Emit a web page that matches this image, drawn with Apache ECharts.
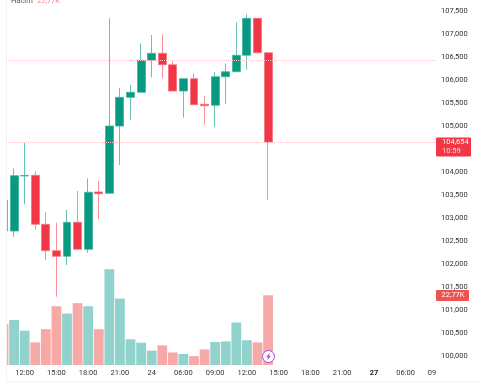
<!DOCTYPE html>
<html><head><meta charset="utf-8">
<style>html,body{margin:0;padding:0;background:#fff}#c{width:480px;height:384px;filter:blur(0.4px)}</style>
<script src="https://cdn.jsdelivr.net/npm/echarts@6/dist/echarts.min.js"></script></head>
<body><div id="c"></div>
<script>
const opens  = [103395,102721,103916,103931,102867,102294,102172,102910,102324,103569,103540,105002,105625,105734,106429,106581,106333,105762,106029,105473,105452,106073,106181,106538,107341,106594];
const closes = [102721,103923,103927,102867,102294,102172,102910,102324,103562,103532,105002,105625,105734,106429,106581,106333,105762,106029,105465,105443,106073,106181,106538,107341,106594,104654];
const lows   = [102721,102598,103301,102758,102092,101295,101983,102324,102250,102982,103540,104155,105132,105734,106060,106038,105762,105182,105452,105030,104987,105486,106181,106225,106566,103388];
const highs  = [103395,104083,104639,104018,103128,102902,103178,103590,103866,103807,107341,105827,105893,106798,106979,106994,106399,106029,106147,105660,106175,106364,107254,107428,107341,106594];
const volumes= [13.4,14.7,11.2,7.4,11.7,19.2,16.8,20.2,19.2,11.7,31.3,21.7,8.4,7.3,4.7,6.4,4.1,3.6,2.9,5.1,7.5,7.7,13.9,8.1,7.4,22.77];
const priceTicks = [100000,100500,101000,101500,102000,102500,103000,103500,104000,105000,105500,106000,106500,107000,107500];
const timeTickPos = [2,5,8,11,14,17,20,23,26,29,32,35,38,40.48];
const timeTickLabels = ['12:00','15:00','18:00','21:00','24','06:00','09:00','12:00','15:00','18:00','21:00','27','06:00','09'];
const boldTimeLabels = ['27'];
const refLevels = [106425,104654];
const lastPrice = '104,654', countdown = '10:59', lastVolume = '22,77K';

const GREEN='#089981', RED='#F23645', GREEN_V='#92D2CC', RED_V='#F7A9A7';
const FONT='Roboto, sans-serif', FS=7.5;
const idx = opens.map((_,i)=>i);
const fmtPrice = v => v.toLocaleString('en-US');
const xRange={min:0.236,max:40.77}, rect={left:6,right:45,top:0,height:365};

const chart = echarts.init(document.getElementById('c'),null,{renderer:'canvas'});
chart.setOption({
  animation:false, backgroundColor:'#fff',
  grid:[Object.assign({},rect),Object.assign({},rect)],
  xAxis:[
    Object.assign({type:'value',gridIndex:0,splitLine:{show:false},axisLine:{show:false},axisTick:{show:false},
      axisLabel:{customValues:timeTickPos,margin:4.5,color:'#333',fontFamily:FONT,fontSize:FS,
        formatter:v=>{const l=timeTickLabels[timeTickPos.indexOf(v)];return boldTimeLabels.includes(l)?'{b|'+l+'}':l;},
        rich:{b:{fontWeight:'bold',color:'#222',fontFamily:FONT,fontSize:FS}}}},xRange),
    Object.assign({type:'value',gridIndex:1,show:false},xRange)
  ],
  yAxis:[
    {type:'value',gridIndex:0,position:'right',min:99811,max:107739,splitLine:{show:false},axisLine:{show:false},axisTick:{show:false},
     axisLabel:{customValues:priceTicks,margin:6,color:'#333',fontFamily:FONT,fontSize:FS,formatter:fmtPrice}},
    {type:'value',gridIndex:1,min:0,max:119.25,show:false}
  ],
  series:[
    {type:'bar',xAxisIndex:1,yAxisIndex:1,barWidth:9.8,z:1,silent:true,
     data:idx.map(i=>({value:[i,volumes[i]],itemStyle:{color:closes[i]>=opens[i]?GREEN_V:RED_V}}))},
    {type:'line',xAxisIndex:0,yAxisIndex:0,z:2,silent:true,data:[],
     markLine:{silent:true,symbol:'none',label:{show:false},animation:false,
       lineStyle:{color:'#F9C4C8',type:[1,1],width:1},
       data:refLevels.map(v=>({yAxis:v}))}},
    {type:'candlestick',xAxisIndex:0,yAxisIndex:0,barWidth:8.4,z:3,silent:true,
     encode:{x:0,y:[1,2,3,4]},
     data:idx.map(i=>[i,opens[i],closes[i],lows[i],highs[i]]),
     itemStyle:{color:GREEN,color0:RED,borderColor:'#3FB3A0',borderColor0:'#F6727D',borderWidth:0.8}}
  ],
  graphic:[
    {type:'rect',z:4,shape:{x:0,y:0,width:6,height:384},style:{fill:'#fff'}},
    {type:'line',z:5,shape:{x1:6.5,y1:0,x2:6.5,y2:381},style:{stroke:'#F2F2F2',lineWidth:1}},
    {type:'line',z:5,shape:{x1:6,y1:381.5,x2:480,y2:381.5},style:{stroke:'#F6F6F6',lineWidth:1}},
    {type:'text',z:5,x:11,y:-2.5,style:{text:'Hacim',fill:'#555',font:'7.5px '+FONT}},
    {type:'text',z:5,x:37,y:-2.5,style:{text:lastVolume,fill:'#F7868E',font:'7.5px '+FONT}},
    {type:'rect',z:5,shape:{x:436,y:137.5,width:35,height:19,r:1},style:{fill:RED}},
    {type:'text',z:6,x:442,y:138.5,style:{text:lastPrice,fill:'#fff',font:FS+'px '+FONT}},
    {type:'text',z:6,x:442,y:147.5,style:{text:countdown,fill:'#FBD5D8',font:FS+'px '+FONT}},
    {type:'rect',z:5,shape:{x:436,y:290,width:33,height:11,r:1},style:{fill:'#EF5350'}},
    {type:'text',z:6,x:441.5,y:291.5,style:{text:lastVolume,fill:'#fff',font:FS+'px '+FONT}},
    {type:'circle',z:7,shape:{cx:268.5,cy:356.5,r:6},style:{fill:'#fff',stroke:'#A94FD8',lineWidth:1}},
    {type:'polygon',z:8,shape:{points:[[270,352.5],[266,357.3],[268.2,357.3],[267,360.5],[271,355.7],[268.8,355.7]]},style:{fill:'#A94FD8'}}
  ]
});
</script></body></html>
